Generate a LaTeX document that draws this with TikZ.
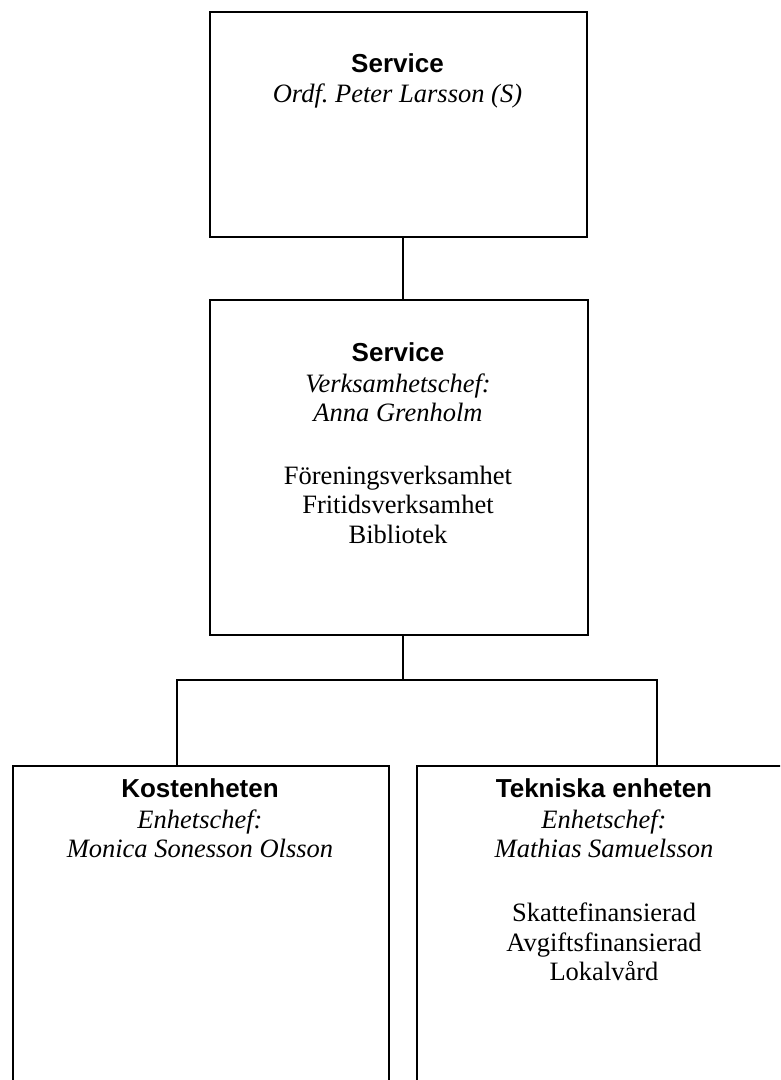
\documentclass[tikz,border=0pt]{standalone}
\usepackage{fontspec}
\setmainfont{Liberation Serif}
\newfontfamily\headfont{Liberation Sans}
\frenchspacing
\begin{document}
\begin{tikzpicture}[x=1pt,y=-1pt,
  box/.style={draw, line width=1.5pt, rectangle, inner sep=0pt, anchor=north west},
  link/.style={line width=1.5pt},
  head/.style={anchor=base, inner sep=0pt, font=\headfont\bfseries\fontsize{26}{30}\selectfont},
  role/.style={anchor=base, inner sep=0pt, font=\itshape\fontsize{26.5}{30}\selectfont},
  item/.style={anchor=base, inner sep=0pt, font=\fontsize{26.5}{30}\selectfont}]
\useasboundingbox (0,0) rectangle (780,1080);
\begin{scope}
\clip (0,0) rectangle (780,1080);
% boxes
\node[box, minimum width=377pt, minimum height=225pt] (top) at (209,11) {};
\node[box, minimum width=378pt, minimum height=335pt] (mid) at (209,299) {};
\node[box, minimum width=376pt, minimum height=330pt] (left) at (12,765) {};
\node[box, minimum width=376pt, minimum height=330pt] (right) at (416,765) {};
% connector helpers
\coordinate (tx) at (403,0);
\coordinate (bl) at (177,680);
\coordinate (br) at (657,680);
\draw[link] (top.south -| tx) -- (mid.north -| tx);
\draw[link] (mid.south -| tx) -- (tx |- bl);
\draw[link] (left.north -| bl) -- (bl) -- (br) -- (right.north -| br);
% texts top
\node[head] (th) at (397.5,72) {Service};
\node[role] (tr) at (397.5,102) {Ordf. Peter Larsson (S)};
% texts middle
\node[head] (mh) at (398,361) {Service};
\node[role] (mr1) at (398,392.5) {Verksamhetschef:};
\node[role] (mr2) at (398,421.5) {Anna Grenholm};
\node[item] (mi1) at (398,484) {Föreningsverksamhet};
\node[item] (mi2) at (398,513.5) {Fritidsverksamhet};
\node[item] (mi3) at (398,543) {Bibliotek};
% texts left
\node[head] (lh) at (200,797) {Kostenheten};
\node[role] (lr1) at (200,828) {Enhetschef:};
\node[role] (lr2) at (200,857.5) {Monica Sonesson Olsson};
% texts right
\node[head] (rh) at (604,797) {Tekniska enheten};
\node[role] (rr1) at (604,828) {Enhetschef:};
\node[role] (rr2) at (604,857.5) {Mathias Samuelsson};
\node[item] (ri1) at (604,921.5) {Skattefinansierad};
\node[item] (ri2) at (604,951) {Avgiftsfinansierad};
\node[item] (ri3) at (604,980.5) {Lokalvård};
\end{scope}
\end{tikzpicture}
\end{document}
